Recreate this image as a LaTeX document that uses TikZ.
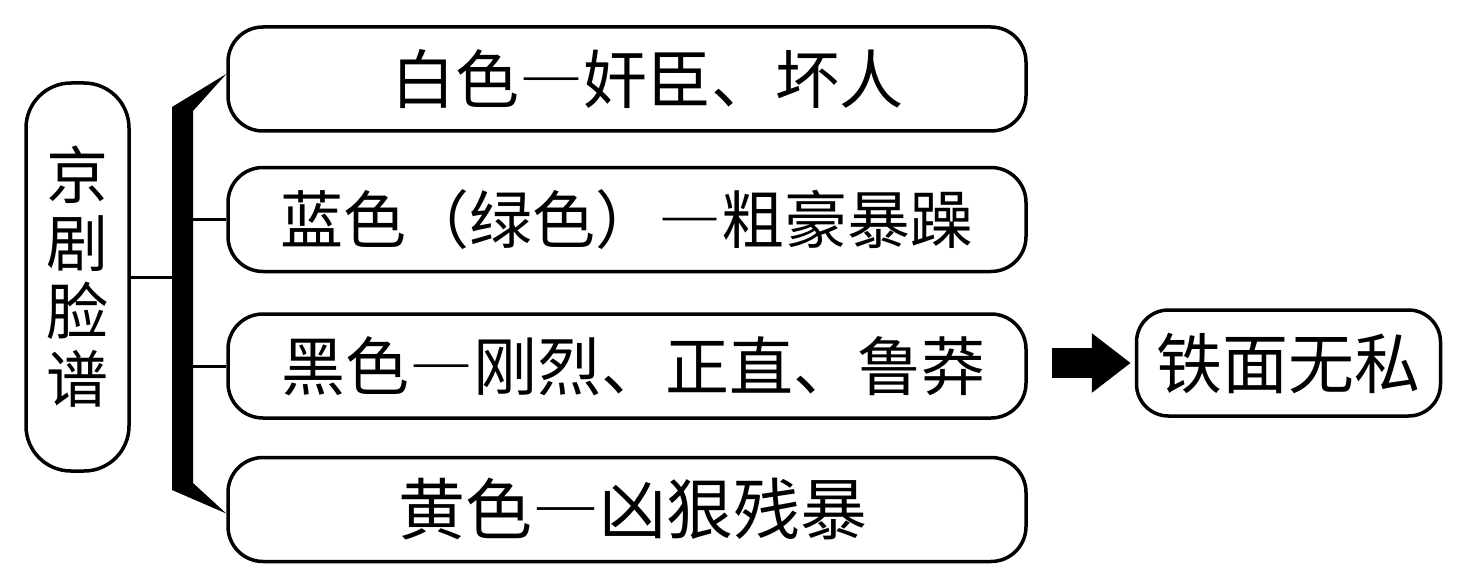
\documentclass[tikz,border=0pt]{standalone}
\usepackage{fontspec}
\setmainfont{Noto Sans CJK SC}
\newfontfamily\fwfont[RawFeature=+fwid]{Noto Sans CJK SC}
\newcommand{\fwdash}{{\fwfont —}}
\usetikzlibrary{arrows.meta}
\begin{document}
\begin{tikzpicture}[x=1pt,y=-1pt,
  box/.style={draw, line width=3.5pt, rounded corners=35pt, inner sep=0pt,
    minimum width=798pt, minimum height=104pt, font=\fontsize{64}{68}\selectfont},
  sidebox/.style={draw, line width=3.5pt, rounded corners=45pt, inner sep=0pt,
    minimum width=103pt, minimum height=388pt, align=center, font=\fontsize{62}{68}\selectfont},
  resbox/.style={draw, line width=3.5pt, rounded corners=32pt, inner sep=0pt,
    minimum width=304pt, minimum height=106pt, font=\fontsize{66}{68}\selectfont},
  conn/.style={line width=3pt},
  bigarrow/.style={line width=30pt, -{Triangle[length=39pt,width=57pt]}}]
\useasboundingbox (0,0) rectangle (1461,583);
\node[sidebox] (L) at (77.5,277) {京\\剧\\脸\\谱};
\node[box] (b1) at (627,79) {\hspace*{40pt}白色\fwdash 奸臣、坏人};
\node[box, font=\fontsize{63}{68}\selectfont] (b2) at (627,219.5) {蓝色（绿色）\fwdash 粗豪暴躁};
\node[box] (b3) at (627,366) {\hspace*{12pt}黑色\fwdash 刚烈、正直、鲁莽};
\node[box, font=\fontsize{67}{68}\selectfont] (b4) at (627,509.5) {\hspace*{12pt}黄色\fwdash 凶狠残暴};
\node[resbox] (res) at (1288.5,363) {铁面无私};
\coordinate (barL) at (175,0);
\coordinate (barR) at (190,0);
\fill (172,107) -- ([yshift=5pt]b1.west) -- (193,111) -- (193,483)
  -- ([yshift=-4pt]b4.west) -- (172,490) -- cycle;
\draw[conn] (L.east) -- (L.east -| barL);
\draw[conn] (b2.west -| barR) -- (b2.west);
\draw[conn] (b3.west -| barR) -- (b3.west);
\draw[bigarrow] ([xshift=24pt]b3.east |- res.west) -- ([xshift=-4pt]res.west);
\end{tikzpicture}
\end{document}
